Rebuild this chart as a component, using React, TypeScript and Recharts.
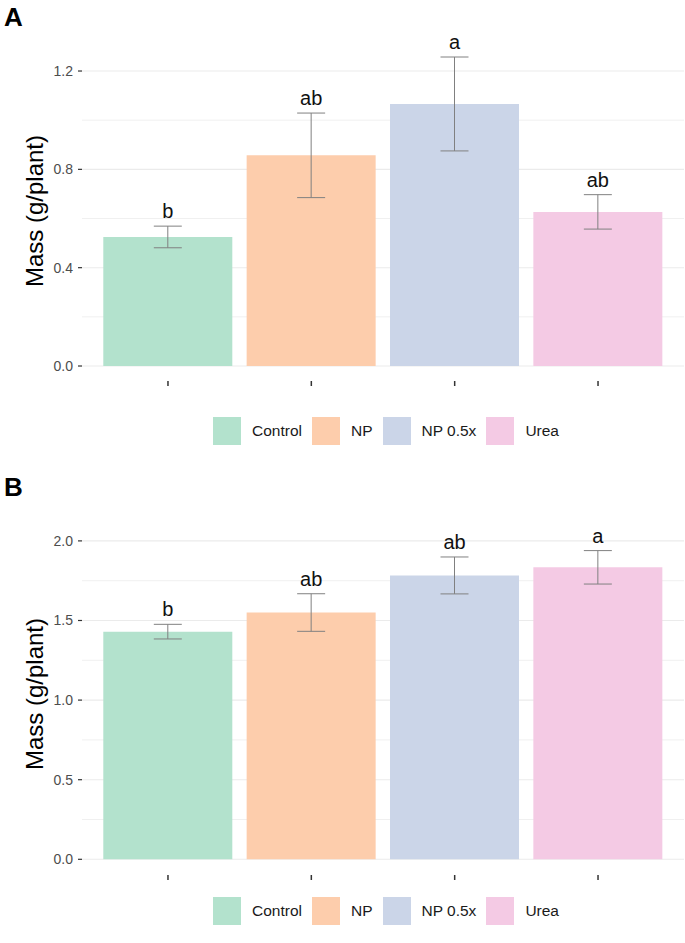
import { BarChart, Bar, XAxis, YAxis, CartesianGrid, ErrorBar, LabelList, Cell } from 'recharts';

const categories = ['Control', 'NP', 'NP 0.5x', 'Urea'];
const colors = ['#B3E2CD', '#FDCDAC', '#CBD5E8', '#F4CAE4'];

// panel A
const massA = [0.525, 0.857, 1.066, 0.627];
const seA = [0.044, 0.172, 0.191, 0.07];
const lettersA = ['b', 'ab', 'a', 'ab'];
const ticksA = [0, 0.4, 0.8, 1.2];
const minorA = [0.2, 0.6, 1.0];

// panel B
const massB = [1.43, 1.55, 1.783, 1.834];
const seB = [0.046, 0.118, 0.116, 0.105];
const lettersB = ['b', 'ab', 'ab', 'a'];
const ticksB = [0, 0.5, 1.0, 1.5, 2.0];
const minorB = [0.25, 0.75, 1.25, 1.75];

const FONT = '"Liberation Sans", Arial, Helvetica, sans-serif';

type PanelProps = {
    tag: string;
    mass: number[];
    se: number[];
    letters: string[];
    ticks: number[];
    minor: number[];
    domain: [number, number];
    top: number;
    height: number;
    marginTop: number;
    marginBottom: number;
    titleY: number;
    legendY: number;
};

// grid lines from the y axis scale, drawn behind the bars
const gridAt = (values: number[], domain: [number, number]) => (props: any) => {
    const scale = props?.yAxis?.scale;
    if (typeof scale === 'function') return values.map(v => scale(v));
    if (scale && typeof scale.map === 'function') return values.map(v => scale.map(v));
    const off = props?.offset;
    if (!off) return [];
    // same linear mapping as the axis
    return values.map(v => off.top + off.height * (domain[1] - v) / (domain[1] - domain[0]));
};

function Panel({ tag, mass, se, letters, ticks, minor, domain, top, height, marginTop, marginBottom, titleY, legendY }: PanelProps) {
    const data = categories.map((name, i) => ({ name, mass: mass[i], se: se[i], letter: letters[i] }));

    // letter sits a few px above the top of the error bar
    const renderLetter = (props: any) => {
        const { x, y, width, height: h, index, value } = props;
        const d = data[index];
        const pxPerUnit = h / d.mass;
        const errTop = y - d.se * pxPerUnit;
        return (
            <text x={x + width / 2} y={errTop - 8} textAnchor="middle" fontSize={20} fill="#111" fontFamily={FONT}>
                {value}
            </text>
        );
    };

    return (
        <div style={{ position: 'absolute', left: 0, top, width: 685, height }}>
            <div style={{ position: 'absolute', left: 4, top: 2, fontSize: 26, fontWeight: 700, fontFamily: FONT, color: '#000' }}>{tag}</div>
            <div
                style={{
                    position: 'absolute', left: 35, top: titleY, transform: 'translate(-50%, -50%) rotate(-90deg)',
                    fontSize: 24, fontFamily: FONT, color: '#000', whiteSpace: 'nowrap'
                }}
            >
                Mass (g/plant)
            </div>
            <BarChart width={685} height={height} data={data} margin={{ top: marginTop, right: 1, bottom: marginBottom, left: 0 }}>
                <CartesianGrid vertical={false} stroke="#F0F0F0" strokeWidth={1} horizontalCoordinatesGenerator={gridAt(minor, domain)} />
                <CartesianGrid vertical={false} stroke="#EBEBEB" strokeWidth={1.1} horizontalCoordinatesGenerator={gridAt(ticks, domain)} />
                <XAxis
                    dataKey="name"
                    padding={{ left: 14.3, right: 14.3 }}
                    axisLine={false}
                    tickLine={{ stroke: '#333', strokeWidth: 1.5 }}
                    tickSize={5}
                    tickFormatter={() => ''}
                    height={30}
                />
                <YAxis
                    type="number"
                    domain={domain}
                    ticks={ticks}
                    allowDataOverflow
                    width={82}
                    axisLine={false}
                    tickLine={{ stroke: '#333', strokeWidth: 1.2 }}
                    tickSize={4}
                    tickMargin={5}
                    tickFormatter={(v: number) => v.toFixed(1)}
                    tick={{ fontSize: 14, fill: '#4D4D4D', fontFamily: FONT }}
                />
                <Bar dataKey="mass" barSize={129} isAnimationActive={false}>
                    {data.map((d, i) => (
                        <Cell key={d.name} fill={colors[i]} />
                    ))}
                    <ErrorBar dataKey="se" width={14} stroke="#808080" strokeWidth={1} direction="y" isAnimationActive={false} />
                    <LabelList dataKey="letter" content={renderLetter} />
                </Bar>
            </BarChart>
            <div style={{ position: 'absolute', left: 213, top: legendY - 14, display: 'flex', alignItems: 'center', fontFamily: FONT, fontSize: 15.5, color: '#1a1a1a' }}>
                {categories.map((c, i) => (
                    <div key={c} style={{ display: 'flex', alignItems: 'center', marginRight: 10 }}>
                        <div style={{ width: 28, height: 28, background: colors[i], marginRight: 11 }} />
                        <span>{c}</span>
                    </div>
                ))}
            </div>
        </div>
    );
}

export default function App() {
    return (
        <div style={{ position: 'absolute', left: 0, top: 0, width: 685, height: 943, background: '#fff', overflow: 'hidden' }}>
            <Panel
                tag="A" mass={massA} se={seA} letters={lettersA} ticks={ticksA} minor={minorA}
                domain={[-0.061, 1.314]} top={0} height={470} marginTop={43} marginBottom={59}
                titleY={211} legendY={431}
            />
            <Panel
                tag="B" mass={massB} se={seB} letters={lettersB} ticks={ticksB} minor={minorB}
                domain={[-0.0986, 2.037]} top={470} height={473} marginTop={65} marginBottom={38}
                titleY={224} legendY={441}
            />
        </div>
    );
}
